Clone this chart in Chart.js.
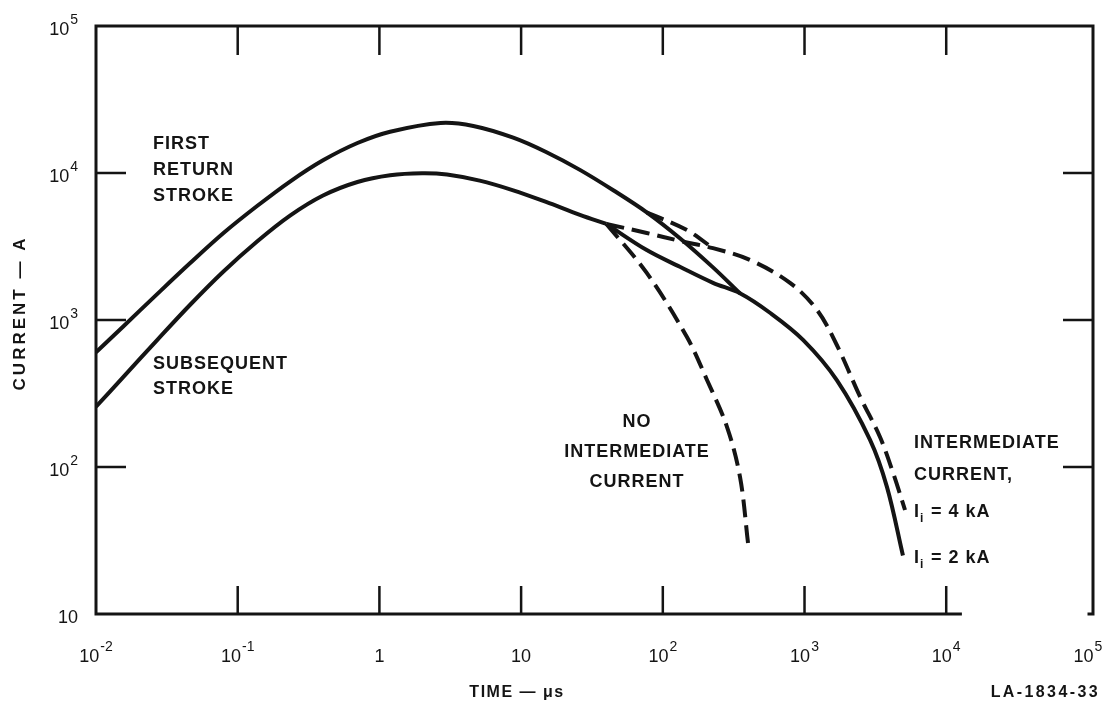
<!DOCTYPE html>
<html>
<head>
<meta charset="utf-8">
<title>Current vs time</title>
<script src="https://cdn.jsdelivr.net/npm/chart.js@4.4.1/dist/chart.umd.min.js"></script>
<style>
    html, body { margin: 0; padding: 0; background: #fff; }
    #wrap { width: 1107px; height: 704px; }
</style>
</head>
<body>
<div id="wrap"><canvas id="chart" width="1107" height="704"></canvas></div>
<script>
// time in microseconds, current in amperes
const firstTime = [0.01, 0.0155, 0.027, 0.046, 0.079, 0.137, 0.234, 0.40, 0.70, 1.19, 2.7, 4.6, 8.8, 15, 26, 45, 77, 132, 226, 350];
const firstCurrent = [603, 900, 1500, 2430, 3890, 5960, 8750, 12200, 16000, 19100, 21900, 20900, 17400, 13900, 10500, 7600, 5400, 3600, 2280, 1520];

const subTime = [0.01, 0.0155, 0.027, 0.046, 0.079, 0.137, 0.234, 0.40, 0.70, 1.19, 2.0, 3.0, 5.1, 8.8, 15, 26, 40];
const subCurrent = [257, 407, 730, 1265, 2130, 3420, 5130, 7030, 8690, 9660, 9970, 9770, 8870, 7620, 6350, 5190, 4500];

const noIcTime = [40, 77, 148, 205, 284, 351, 400];
const noIcCurrent = [4500, 2090, 765, 391, 187, 85, 30];

const ic2Time = [40, 77, 132, 226, 350, 570, 980, 1690, 2900, 3820, 4950];
const ic2Current = [4500, 2990, 2300, 1790, 1520, 1120, 730, 390, 153, 73, 25];

const ic4Time = [40, 77, 132, 226, 412, 790, 1225, 1690, 2470, 3410, 4220, 5120];
const ic4Current = [4500, 3910, 3450, 3080, 2560, 1790, 1170, 676, 300, 160, 91, 51];

const ic4FirstTime = [77, 148, 226];
const ic4FirstCurrent = [5400, 4090, 3080];

// decade tick labels, as powers of ten
const xTickExp = [-2, -1, 0, 1, 2, 3, 4, 5];
const yTickExp = [1, 2, 3, 4, 5];

const ink = "#141414";
const fontName = "'Liberation Sans', Arial, sans-serif";

const pairs = (xs, ys) => xs.map((t, i) => ({ x: t, y: ys[i] }));

const curve = (points, dashed) => ({
    data: points,
    borderColor: ink,
    borderWidth: 4,
    pointRadius: 0,
    fill: false,
    tension: 0.35,
    borderDash: dashed ? [18, 8] : [],
    borderCapStyle: "butt",
});

// "10" with a raised exponent
const drawPower = (ctx, e, x, baseline, align) => {
    const base = e === 0 ? "1" : "10";
    const sup = e === 0 || e === 1 ? "" : String(e);
    ctx.font = "18px " + fontName;
    const wb = ctx.measureText(base).width;
    ctx.font = "14px " + fontName;
    const ws = sup ? ctx.measureText(sup).width + 1 : 0;
    const left = align === "right" ? x - wb - ws : x - (wb + ws) / 2;
    ctx.textAlign = "left";
    ctx.font = "18px " + fontName;
    ctx.fillText(base, left, baseline);
    if (sup) {
        ctx.font = "14px " + fontName;
        ctx.fillText(sup, left + wb + 1, baseline - 11);
    }
};

const label = (ctx, lines, x, y, step, align) => {
    ctx.font = "bold 18px " + fontName;
    ctx.letterSpacing = "1px";
    ctx.textAlign = align || "left";
    lines.forEach((txt, i) => ctx.fillText(txt, x, y + i * step));
    ctx.letterSpacing = "0px";
};

const subLabel = (ctx, rest, x, y) => {
    ctx.textAlign = "left";
    ctx.font = "bold 18px " + fontName;
    ctx.fillText("I", x, y);
    ctx.font = "bold 12px " + fontName;
    ctx.fillText("i", x + 6, y + 5);
    ctx.font = "bold 18px " + fontName;
    ctx.letterSpacing = "1px";
    ctx.fillText(rest, x + 17, y);
    ctx.letterSpacing = "0px";
};

const framePlugin = {
    id: "frame",
    afterDraw(chart) {
        const { ctx, chartArea: a, scales: { x, y } } = chart;
        ctx.save();
        ctx.strokeStyle = ink;
        ctx.fillStyle = ink;
        ctx.lineCap = "square";

        // box (bottom edge stops short of the corner, as in the scan)
        ctx.lineWidth = 3;
        ctx.beginPath();
        ctx.moveTo(x.getPixelForValue(Math.pow(10, 4.1)), a.bottom);
        ctx.lineTo(a.left, a.bottom);
        ctx.lineTo(a.left, a.top);
        ctx.lineTo(a.right, a.top);
        ctx.lineTo(a.right, a.bottom);
        ctx.lineTo(a.right - 4, a.bottom);
        ctx.stroke();

        // inward tick marks
        ctx.lineWidth = 2.5;
        ctx.lineCap = "butt";
        ctx.beginPath();
        xTickExp.slice(1, -1).forEach((e) => {
            const px = x.getPixelForValue(Math.pow(10, e));
            ctx.moveTo(px, a.top);
            ctx.lineTo(px, a.top + 29);
            ctx.moveTo(px, a.bottom);
            ctx.lineTo(px, a.bottom - 28);
        });
        yTickExp.slice(1, -1).forEach((e) => {
            const py = y.getPixelForValue(Math.pow(10, e));
            ctx.moveTo(a.left, py);
            ctx.lineTo(a.left + 30, py);
            ctx.moveTo(a.right, py);
            ctx.lineTo(a.right - 30, py);
        });
        ctx.stroke();

        // tick labels
        ctx.textBaseline = "alphabetic";
        xTickExp.forEach((e) => {
            drawPower(ctx, e, x.getPixelForValue(Math.pow(10, e)), a.bottom + 48, "center");
        });
        yTickExp.forEach((e) => {
            drawPower(ctx, e, a.left - 18, y.getPixelForValue(Math.pow(10, e)) + 9, "right");
        });

        // axis titles
        ctx.save();
        ctx.translate(20, 313);
        ctx.rotate(-Math.PI / 2);
        ctx.font = "bold 17px " + fontName;
        ctx.letterSpacing = "3px";
        ctx.textAlign = "center";
        ctx.textBaseline = "middle";
        ctx.fillText("CURRENT — A", 0, 0);
        ctx.restore();

        ctx.font = "bold 16px " + fontName;
        ctx.letterSpacing = "1.5px";
        ctx.textAlign = "center";
        ctx.fillText("TIME — μs", 517, 697);
        ctx.letterSpacing = "2.4px";
        ctx.textAlign = "right";
        ctx.fillText("LA-1834-33", 1100, 697);
        ctx.letterSpacing = "0px";

        // curve labels
        label(ctx, ["FIRST", "RETURN", "STROKE"], 153, 149, 26);
        label(ctx, ["SUBSEQUENT", "STROKE"], 153, 369, 25);
        label(ctx, ["NO", "INTERMEDIATE", "CURRENT"], 637, 427, 30, "center");
        label(ctx, ["INTERMEDIATE", "CURRENT,"], 914, 448, 32);
        subLabel(ctx, "= 4 kA", 914, 517);
        subLabel(ctx, "= 2 kA", 914, 563);

        ctx.restore();
    },
};

new Chart(document.getElementById("chart"), {
    type: "line",
    data: {
        datasets: [
            curve(pairs(firstTime, firstCurrent), false),
            curve(pairs(subTime, subCurrent), false),
            curve(pairs(noIcTime, noIcCurrent), true),
            curve(pairs(ic2Time, ic2Current), false),
            curve(pairs(ic4Time, ic4Current), true),
            curve(pairs(ic4FirstTime, ic4FirstCurrent), true),
        ],
    },
    options: {
        responsive: false,
        animation: false,
        devicePixelRatio: 1,
        layout: { padding: { left: 96, right: 14, top: 26, bottom: 90 } },
        plugins: { legend: { display: false }, tooltip: { enabled: false } },
        scales: {
            x: { type: "logarithmic", min: 0.01, max: 108600, display: false },
            y: { type: "logarithmic", min: 10, max: 100000, display: false },
        },
    },
    plugins: [framePlugin],
});
</script>
</body>
</html>
